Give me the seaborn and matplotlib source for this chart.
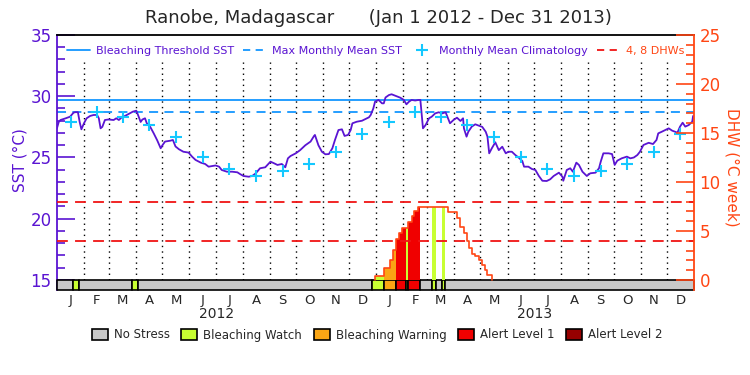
import numpy as np
import pandas as pd
import matplotlib
matplotlib.use('Agg')
import matplotlib.pyplot as plt
from matplotlib.patches import Patch
from matplotlib.lines import Line2D
from matplotlib.transforms import blended_transform_factory
import seaborn as sns

# days counted from Jan 1 2012
sst_day = [0, 2, 4, 10, 15, 19, 21, 24, 26, 28,
           31, 34, 38, 42, 46, 48, 50, 52, 55, 59,
           65, 68, 71, 75, 78, 82, 87, 91, 93, 96,
           98, 101, 103, 107, 111, 115, 119, 121, 124, 130,
           133, 136, 140, 145, 151, 155, 159, 165, 170, 174,
           178, 182, 186, 189, 195, 201, 207, 210, 214, 220,
           224, 228, 233, 239, 245, 249, 253, 258, 262, 265,
           268, 274, 279, 285, 291, 295, 296, 300, 304, 308,
           312, 316, 319, 323, 327, 330, 334, 337, 339, 344,
           350, 358, 360, 363, 365, 369, 373, 375, 377, 381,
           384, 388, 394, 398, 401, 404, 407, 411, 415, 417,
           419, 420, 423, 427, 430, 434, 438, 442, 446, 448,
           451, 455, 459, 463, 466, 467, 470, 472, 476, 480,
           484, 488, 492, 494, 495, 496, 499, 503, 507, 511,
           515, 518, 522, 526, 530, 534, 536, 541, 545, 549,
           553, 557, 562, 566, 570, 576, 580, 581, 585, 589,
           592, 596, 599, 603, 608, 612, 618, 622, 624, 627,
           633, 637, 640, 643, 648, 654, 658, 662, 666, 669,
           673, 679, 684, 688, 690, 694, 698, 702, 706, 712,
           715, 718, 721, 725, 729, 730]
sst_val = [27.4, 27.9, 28.06, 28.2, 28.33, 28.66, 28.7, 28.7, 27.9, 27.3,
           27.8, 28.2, 28.39, 28.47, 28.47, 28.2, 27.38, 27.5, 28.06, 28.1,
           28.06, 28.2, 28.06, 28.33, 28.39, 28.55, 28.74, 28.82, 28.47, 27.9,
           28.1, 28.2, 27.8, 27.5, 26.97, 26.4, 25.75, 26.0, 26.3, 26.37,
           26.43, 25.9, 25.67, 25.47, 25.4, 25.07, 24.8, 24.58, 24.47, 24.25,
           24.3, 24.35, 24.25, 23.98, 23.84, 23.84, 23.79, 23.65, 23.49, 23.43,
           23.49, 23.7, 24.12, 24.2, 24.66, 24.53, 24.39, 24.47, 24.2, 24.93,
           25.12, 25.34, 25.6, 26.0, 26.3, 26.76, 26.84, 26.0, 25.47, 25.26,
           25.28, 25.75, 26.43, 27.24, 27.3, 26.76, 26.84, 27.24, 27.79, 27.92,
           28.0, 28.28, 28.47, 29.0, 29.56, 29.7, 29.42, 29.42, 29.9, 30.1,
           30.16, 30.05, 29.88, 29.7, 29.34, 29.56, 29.7, 29.65, 29.7, 29.7,
           28.2, 27.38, 27.65, 28.2, 28.33, 28.6, 28.69, 28.6, 28.69, 28.33,
           27.79, 28.06, 28.25, 27.98, 28.2, 27.38, 26.7, 27.1, 27.52, 27.71,
           27.6, 27.5, 27.1, 26.7, 25.98, 25.34, 25.75, 26.24, 25.6, 25.88,
           25.34, 25.47, 25.47, 25.2, 24.98, 24.71, 24.25, 24.25, 24.06, 23.98,
           23.49, 23.1, 23.08, 23.22, 23.49, 23.76, 23.43, 23.1, 23.98, 24.12,
           23.84, 24.58, 24.39, 23.84, 23.49, 23.71, 23.76, 24.12, 24.66, 25.34,
           25.34, 25.28, 24.39, 24.74, 24.93, 25.07, 24.93, 25.0, 25.2, 25.47,
           26.02, 26.2, 26.1, 26.43, 26.97, 27.1, 27.24, 27.38, 27.19, 27.03,
           27.52, 27.84, 27.52, 27.65, 27.92, 28.39]

clim_sst = [27.87, 28.74, 28.33, 27.65, 26.65, 25.07,
            24.06, 23.49, 23.9, 24.44, 25.42, 26.92]
threshold_sst = 29.7
mmm_sst = 28.7
dhw_lines = [4, 8]

# DHW steps (start day, value); last entry closes the event
dhw_day = [365, 375, 382, 386, 389, 393, 396, 400, 403, 407, 410, 414, 417,
           449, 459, 463, 467, 470, 473, 476, 480, 484, 488, 491, 494, 499]
dhw_val = [0.45, 1.25, 2.05, 3.1, 4.2, 4.75, 5.35, 5.35, 5.95, 6.5, 7.0, 7.45, 7.45,
           6.9, 6.3, 5.45, 4.75, 4.0, 3.25, 2.7, 2.4, 2.05, 1.55, 1.0, 0.5, 0.0]

# daily stress level periods
stress_start = [0, 18, 25, 86, 93, 361, 375, 389, 400, 403, 417, 430, 435, 442, 445]
stress_level = [0, 1, 0, 1, 0, 1, 2, 3, 1, 3, 0, 1, 0, 1, 0]
stress_names = ['No Stress', 'Bleaching Watch', 'Bleaching Warning',
                'Alert Level 1', 'Alert Level 2']
stress_colors = ['#c8c8c8', '#c8ff32', '#faa514', '#f00000', '#960000']

month_letters = list('JFMAMJJASOND') * 2
year_labels = ['2012', '2013']

purple = '#5a14d2'
orange = '#ff4614'
blue = '#1496ff'
cyan = '#14c8ff'

sns.set_style('white')
plt.rcParams['font.family'] = ['DejaVu Sans']

start = pd.Timestamp('2012-01-01')
mstarts = (pd.date_range('2012-01-01', '2014-01-01', freq='MS') - start).days.values
mmid = (mstarts[:-1] + mstarts[1:]) / 2
total = mstarts[-1]

fig = plt.figure(figsize=(7.5, 3.75), dpi=100)
ax = fig.add_axes([0.076, 0.2267, 0.8493, 0.68])
ax2 = ax.twinx()
sst_lo = 35 - 255 / 12.25
ax.set_ylim(sst_lo, 35)
ax2.set_ylim(-1.02, 25)
ax.set_xlim(0, total)

# month separators
ax.vlines(mstarts[1:-1], 15, 32.8, colors='black', linestyles=(0, (1, 3)), lw=1)

ax.axhline(threshold_sst, color=blue, lw=1.3)
ax.axhline(mmm_sst, color=blue, lw=1.3, ls=(0, (5, 3.5)))

sns.lineplot(x=sst_day, y=sst_val, ax=ax, color=purple, lw=1.3)
sns.scatterplot(x=mmid, y=clim_sst * 2, ax=ax, marker='+', s=80,
                color=cyan, linewidth=1.5, zorder=3)

# stress strip
bounds = stress_start + [total]
for i, lev in enumerate(stress_level):
    ax.broken_barh([(bounds[i], bounds[i + 1] - bounds[i])], (sst_lo, 15 - sst_lo),
                   facecolors=stress_colors[lev], edgecolor='black', lw=1.2,
                   clip_on=False, zorder=4)

# DHW fill coloured by daily stress
def level_at(d):
    idx = np.searchsorted(stress_start, d, side='right') - 1
    return stress_level[idx]

fill_x, fill_h, fill_c = [], [], []
for j in range(len(dhw_day) - 1):
    for d in range(dhw_day[j], dhw_day[j + 1]):
        lev = level_at(d)
        if lev > 0:
            fill_x.append(d)
            fill_h.append(dhw_val[j])
            fill_c.append(stress_colors[lev])
ax2.bar(fill_x, fill_h, width=1, align='edge', color=fill_c, linewidth=0, zorder=1)
ax2.step([dhw_day[0]] + dhw_day, [0] + dhw_val, where='post', color=orange, lw=1.2, zorder=2)
for v in dhw_lines:
    ax2.axhline(v, color='#f01414', lw=1.3, ls=(0, (6, 4)))

# axes styling
for s in ['left', 'right', 'top', 'bottom']:
    ax2.spines[s].set_visible(False)
ax2.spines['right'].set_visible(True)
ax2.spines['right'].set_color(orange)
ax.spines['left'].set_color(purple)
ax.spines['right'].set_visible(False)
ax.spines['top'].set_color('black')
ax.spines['bottom'].set_visible(False)
for s in ax.spines.values():
    s.set_linewidth(1.3)
ax2.spines['right'].set_linewidth(1.3)

ax.set_yticks([15, 20, 25, 30, 35])
ax.set_yticks(range(16, 35), minor=True)
ax.tick_params(axis='y', which='both', direction='in', colors=purple,
               labelsize=12, pad=4)
ax.tick_params(axis='y', which='major', length=13, width=1.2)
ax.tick_params(axis='y', which='minor', length=6, width=1.2)
ax2.set_yticks([0, 5, 10, 15, 20, 25])
ax2.set_yticks(range(1, 25), minor=True)
ax2.tick_params(axis='y', which='both', direction='in', colors=orange,
                labelsize=12, pad=4)
ax2.tick_params(axis='y', which='major', length=13, width=1.2)
ax2.tick_params(axis='y', which='minor', length=6, width=1.2)

ax.set_xticks(mmid)
ax.set_xticklabels(month_letters, fontsize=9.5)
ax.tick_params(axis='x', length=0, pad=3)
tr = blended_transform_factory(ax.transData, fig.transFigure)
for k, yl in enumerate(year_labels):
    ax.text((mstarts[12 * k] + mstarts[12 * k + 12]) / 2, 1 - 314 / 375, yl,
            transform=tr, ha='center', va='center', fontsize=10)

fig.text(0.504, 1 - 18 / 375, 'Ranobe, Madagascar      (Jan 1 2012 - Dec 31 2013)',
         ha='center', va='center', fontsize=13)
fig.text(20 / 750, 1 - 160 / 375, 'SST (°C)', rotation=90, ha='center', va='center',
         color=purple, fontsize=11)
fig.text(732 / 750, 1 - 167 / 375, 'DHW (°C week)', rotation=270, ha='center',
         va='center', color=orange, fontsize=11)

top_handles = [Line2D([], [], color=blue, lw=1.3),
               Line2D([], [], color=blue, lw=1.3, ls=(0, (4, 3))),
               Line2D([], [], color=cyan, marker='+', ls='none', markersize=9, mew=1.5),
               Line2D([], [], color='#f01414', lw=1.3, ls=(0, (4, 3)))]
top_labels = ['Bleaching Threshold SST', 'Max Monthly Mean SST',
              'Monthly Mean Climatology', '4, 8 DHWs']
ax2.legend(top_handles, top_labels, loc='center', bbox_to_anchor=(0.5, 0.937),
           ncol=4, frameon=False, fontsize=8, handlelength=2.1,
           columnspacing=0.8, handletextpad=0.5,
           labelcolor=[purple, purple, purple, orange])

bottom_handles = [Patch(facecolor=c, edgecolor='black', lw=1.2) for c in stress_colors]
fig.legend(bottom_handles, stress_names, loc='center', bbox_to_anchor=(0.503, 1 - 335 / 375),
           ncol=5, frameon=False, fontsize=8.5, handlelength=1.35, handleheight=0.95,
           columnspacing=1.0, handletextpad=0.5)

fig.savefig('out.png', dpi=100)
